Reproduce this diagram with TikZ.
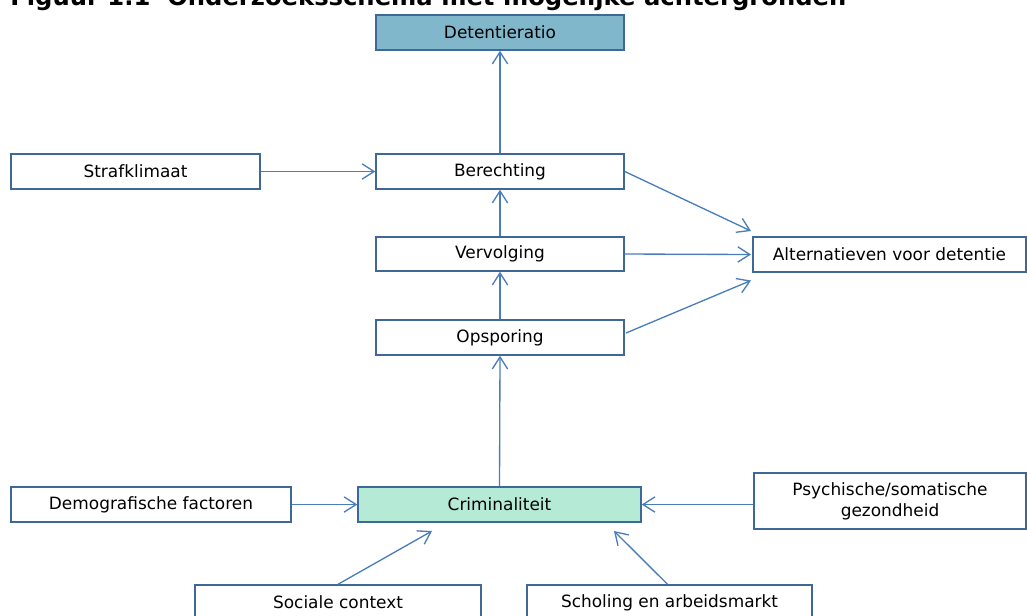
\documentclass[tikz,border=0pt]{standalone}
\usepackage{fontspec}
\setmainfont{DejaVu Sans}
\usetikzlibrary{arrows.meta,calc}
\definecolor{boxline}{HTML}{3D6898}
\definecolor{conn}{HTML}{4A7EBB}
\definecolor{detfill}{HTML}{80B7CB}
\definecolor{crimfill}{HTML}{B4EAD6}
\tikzset{
  box/.style={draw=boxline, line width=1.1pt, fill=white, inner sep=0pt, align=center,
    font=\fontsize{12.7}{15.8}\selectfont, minimum height=26.25pt},
  link/.style={draw=conn, line width=1pt, -{Straight Barb[length=9pt,width=11.5pt,line width=1pt]}},
}
\begin{document}
\begin{tikzpicture}[x=0.75pt,y=-0.75pt]
\useasboundingbox (0,0) rectangle (1027,615);
\clip (0,0) rectangle (1027,615);
% title (cut off at top)
\node[anchor=base west, inner sep=0pt] (title) at (10,5.5)
  {\resizebox{627pt}{!}{\bfseries Figuur 1.1\ \ Onderzoeksschema met mogelijke achtergronden}};
% boxes
\node[box, fill=detfill, minimum width=186pt] (det) at (500,32.5) {Detentieratio};
\node[box, minimum width=186.75pt] (straf) at (135.5,171.5) {Strafklimaat};
\node[box, minimum width=186pt] (ber) at (500,171.5) {Berechting};
\node[box, minimum width=186pt, minimum height=25.5pt] (ver) at (500,254) {Vervolging};
\node[box, minimum width=186pt] (ops) at (500,337.5) {Opsporing};
\node[box, minimum width=204.75pt] (alt) at (889.5,254.5) {Alternatieven voor detentie};
\node[box, fill=crimfill, minimum width=212.25pt] (crim) at (499.5,504.5) {Criminaliteit};
\node[box, minimum width=210pt] (demo) at (151,504.5) {Demografische factoren};
\node[box, minimum width=204pt, minimum height=42pt] (psy) at (890,501) {Psychische/somatische\\gezondheid};
\node[box, minimum width=214.5pt] (soc) at (338,602.5) {Sociale context};
\node[box, minimum width=213.75pt] (sch) at (669.5,602.5) {Scholing en arbeidsmarkt};
% free ends
\coordinate (a1) at (751,231);
\coordinate (a2) at (751,254.5);
\coordinate (a3) at (751,280.5);
\coordinate (s1) at (432,531);
\coordinate (s2) at (614,531);
\coordinate (o1) at (626,333);
% connectors
\draw[link] (ber.north) -- (det.south);
\draw[link] (straf.east) -- (ber.west);
\draw[link] (ver.north) -- (ber.south);
\draw[link] (ops.north) -- (ver.south);
\draw[link] (crim.north) -- (ops.south);
\draw[link] (ber.east) -- (a1);
\draw[link] (ver.east) -- (a2);
\draw[link] (o1) -- (a3);
\draw[link] (demo.east) -- (crim.west);
\draw[link] (psy.west |- crim.east) -- (crim.east);
\draw[link] (soc.north) -- (s1);
\draw[link] (sch.north) ++(-2,0) -- (s2);
\end{tikzpicture}
\end{document}
